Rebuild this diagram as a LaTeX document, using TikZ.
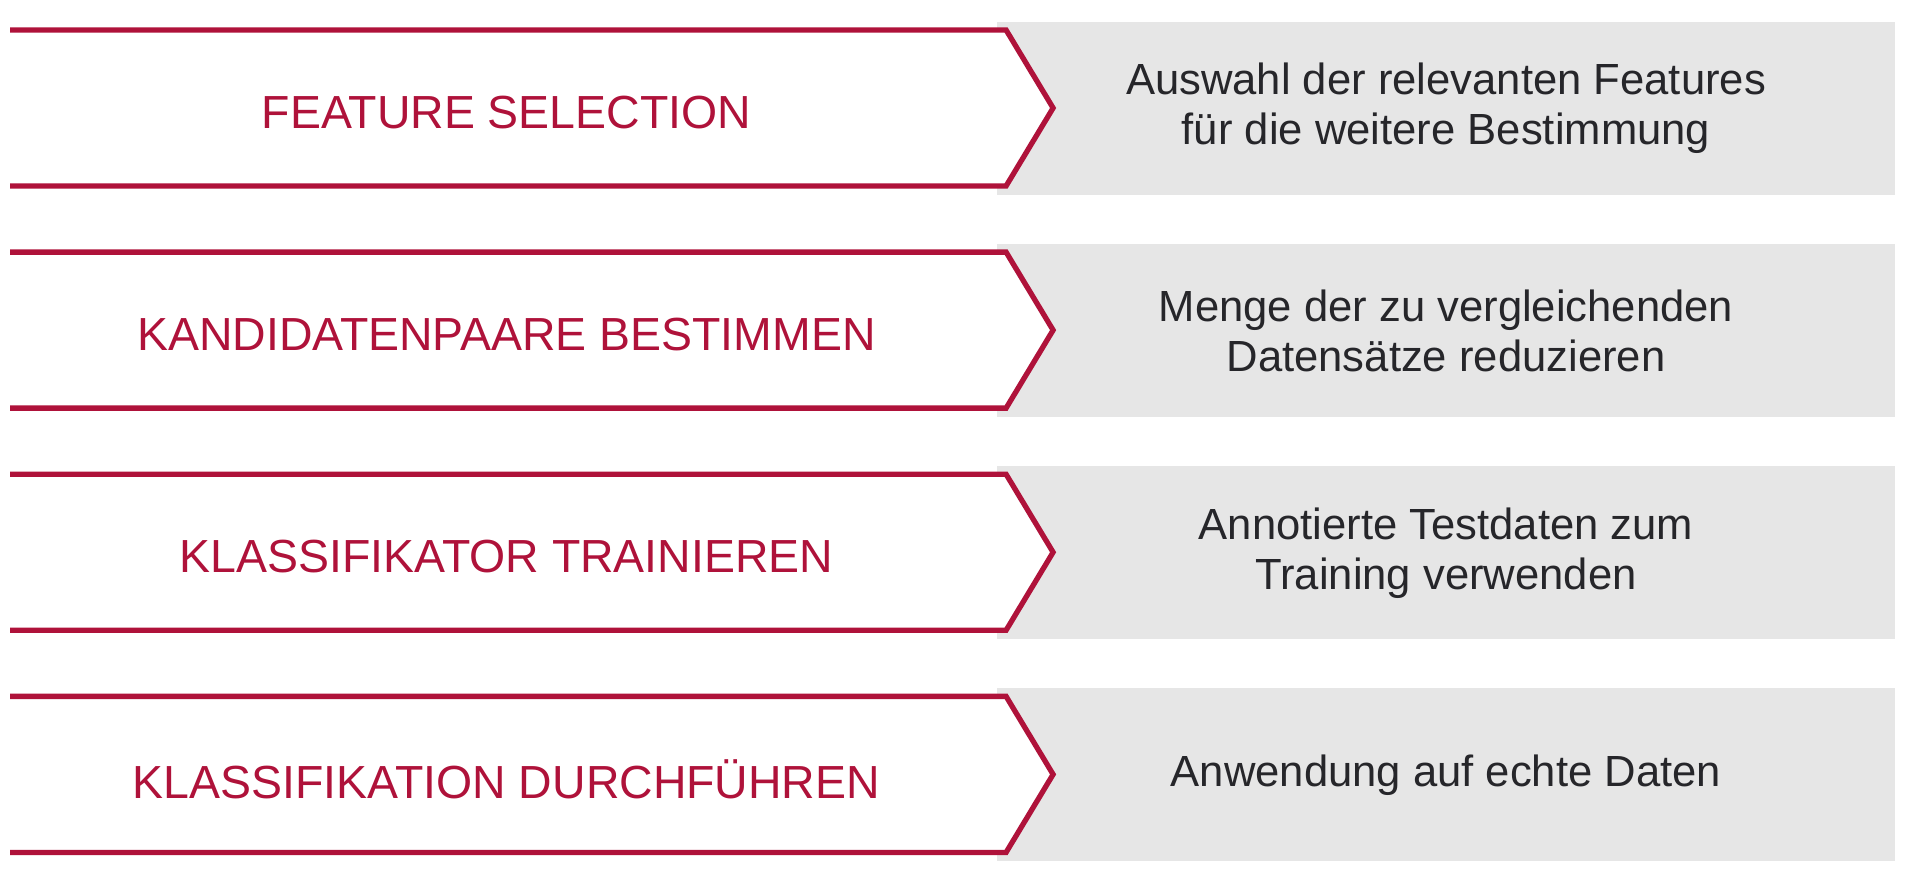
\documentclass[tikz,border=0pt]{standalone}
\usepackage{fontspec}
\setmainfont{Liberation Sans}
\usetikzlibrary{positioning,calc}

\definecolor{stepred}{RGB}{175,18,58}
\definecolor{descgrey}{RGB}{230,230,230}
\definecolor{desctext}{RGB}{38,38,42}
\newcommand{\stepfont}{\fontsize{13.2pt}{15pt}\selectfont}
\newcommand{\descfont}{\fontsize{12.4pt}{14.2pt}\selectfont}

\begin{document}
\begin{tikzpicture}[x=0.01cm,y=-0.01cm,
                    node distance=2.22cm,on grid,
                    line width=1.5pt,line join=miter]
    \tikzset{
      descbox/.style={
        fill=descgrey,
        minimum width=8.98cm,
        minimum height=1.73cm,
        inner sep=0pt,
        align=center,
        text=desctext,
        font=\descfont
      },
      steplabel/.style={
        text=stepred,
        inner sep=0pt,
        font=\stepfont
      },
      chevron/.style={
        draw=stepred,
        fill=white
      }
    }
    \useasboundingbox (0,0) rectangle (1920,879);

    % Descriptions
    \node [descbox] (desc1) at (1446,108.5) {Auswahl der relevanten Features\\für die weitere Bestimmung};
    \node [descbox] (desc2) [below=of desc1] {Menge der zu vergleichenden\\Datensätze reduzieren};
    \node [descbox] (desc3) [below=of desc2] {Annotierte Testdaten zum\\Training verwenden};
    \node [descbox] (desc4) [below=of desc3] {Anwendung auf echte Daten};

    % Chevrons
    \path [chevron] ($(desc1.west)+(-984,-78.5)$) -- ++(996,0) -- ++(47,78) -- ++(-47,78) -- ++(-996,0);
    \path [chevron] ($(desc2.west)+(-984,-78.5)$) -- ++(996,0) -- ++(47,78) -- ++(-47,78) -- ++(-996,0);
    \path [chevron] ($(desc3.west)+(-984,-78.5)$) -- ++(996,0) -- ++(47,78) -- ++(-47,78) -- ++(-996,0);
    \path [chevron] ($(desc4.west)+(-984,-78.5)$) -- ++(996,0) -- ++(47,78) -- ++(-47,78) -- ++(-996,0);

    % Steps
    \node [steplabel] (step1) [left=9.39cm of desc1, yshift=-0.04cm] {FEATURE SELECTION};
    \node [steplabel] (step2) [left=9.39cm of desc2, yshift=-0.04cm] {KANDIDATENPAARE BESTIMMEN};
    \node [steplabel] (step3) [left=9.39cm of desc3, yshift=-0.04cm] {KLASSIFIKATOR TRAINIEREN};
    \node [steplabel] (step4) [left=9.39cm of desc4, yshift=-0.04cm] {KLASSIFIKATION DURCHFÜHREN};
\end{tikzpicture}
\end{document}
